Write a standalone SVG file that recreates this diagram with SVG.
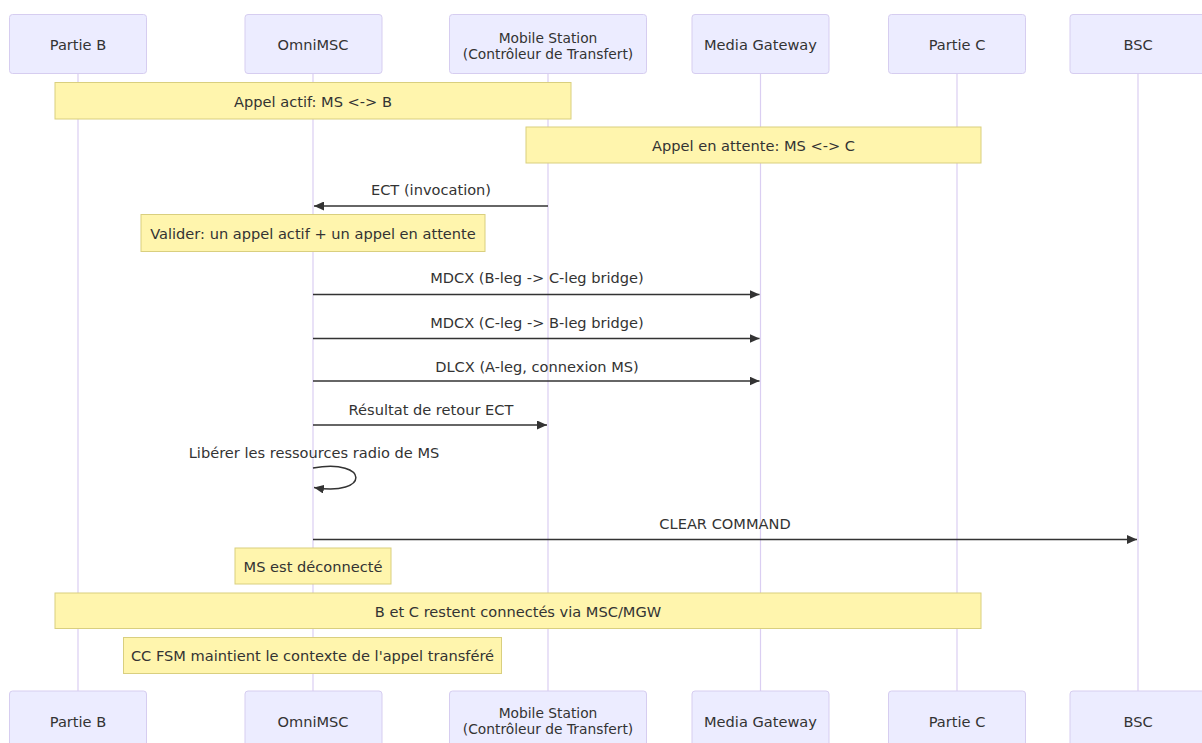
<svg xmlns="http://www.w3.org/2000/svg" width="1202" height="743" viewBox="0 0 1202 743">
<style>
.actor{fill:#ececff;stroke:#d6cdf0;stroke-width:1;}
.atext{font-family:"DejaVu Sans",Verdana,sans-serif;font-size:14.6px;fill:#333;text-anchor:middle;dominant-baseline:central;}
.atext2{font-family:"DejaVu Sans",Verdana,sans-serif;font-size:13.8px;fill:#333;text-anchor:middle;dominant-baseline:central;}
.life{stroke:#dacef2;stroke-width:1.2;fill:none;}
.note{fill:#fff5ad;stroke:#d9cf7f;stroke-width:1;}
.ntext{font-family:"DejaVu Sans",Verdana,sans-serif;font-size:14.6px;fill:#333;text-anchor:middle;dominant-baseline:central;}
.msg{stroke:#333;stroke-width:1.5;fill:none;}
.mtext{font-family:"DejaVu Sans",Verdana,sans-serif;font-size:14.6px;fill:#333;text-anchor:middle;dominant-baseline:central;}
</style>
<defs>
<marker id="arrow" markerUnits="userSpaceOnUse" markerWidth="11" markerHeight="9" refX="10" refY="4.5" orient="auto">
<path d="M0,0 L10,4.5 L0,9 z" fill="#333"/>
</marker>
</defs>
<rect width="1202" height="743" fill="#ffffff"/>
<g id="lifelines">
<line class="life" x1="78" y1="73" x2="78" y2="691"/>
<line class="life" x1="313" y1="73" x2="313" y2="691"/>
<line class="life" x1="548" y1="73" x2="548" y2="691"/>
<line class="life" x1="760.5" y1="73" x2="760.5" y2="691"/>
<line class="life" x1="957" y1="73" x2="957" y2="691"/>
<line class="life" x1="1138" y1="73" x2="1138" y2="691"/>
</g>
<g id="actor-partieB-top"><rect class="actor" x="9.5" y="14.5" width="137" height="59" rx="3"/><text class="atext" x="78" y="44">Partie B</text></g>
<g id="actor-omnimsc-top"><rect class="actor" x="245" y="14.5" width="137" height="59" rx="3"/><text class="atext" x="313" y="44">OmniMSC</text></g>
<g id="actor-ms-top"><rect class="actor" x="449.5" y="14.5" width="197" height="59" rx="3"/><text class="atext2" x="548" y="38">Mobile Station</text><text class="atext2" x="548" y="54">(Contrôleur de Transfert)</text></g>
<g id="actor-mgw-top"><rect class="actor" x="692" y="14.5" width="137" height="59" rx="3"/><text class="atext" x="760.5" y="44">Media Gateway</text></g>
<g id="actor-partieC-top"><rect class="actor" x="888.5" y="14.5" width="137" height="59" rx="3"/><text class="atext" x="957" y="44">Partie C</text></g>
<g id="actor-bsc-top"><rect class="actor" x="1070" y="14.5" width="137" height="59" rx="3"/><text class="atext" x="1138" y="44">BSC</text></g>

<g id="note-actif"><rect class="note" x="55" y="82.5" width="516" height="36.5"/><text class="ntext" x="313" y="101">Appel actif: MS &lt;-&gt; B</text></g>
<g id="note-attente"><rect class="note" x="526" y="127" width="455" height="36"/><text class="ntext" x="753.5" y="145">Appel en attente: MS &lt;-&gt; C</text></g>
<g id="note-valider"><rect class="note" x="141" y="214.5" width="344" height="37"/><text class="ntext" x="313" y="233">Valider: un appel actif + un appel en attente</text></g>
<g id="note-deconnecte"><rect class="note" x="235" y="548" width="156" height="36"/><text class="ntext" x="313" y="566">MS est déconnecté</text></g>
<g id="note-bc"><rect class="note" x="55" y="593" width="926" height="35.5"/><text class="ntext" x="518" y="611">B et C restent connectés via MSC/MGW</text></g>
<g id="note-ccfsm"><rect class="note" x="123.5" y="637.5" width="378" height="36"/><text class="ntext" x="312.5" y="655.5">CC FSM maintient le contexte de l'appel transféré</text></g>

<g id="connectors">
<text class="mtext" x="431" y="189">ECT (invocation)</text>
<line class="msg" x1="548" y1="206" x2="314" y2="206" marker-end="url(#arrow)"/>
<text class="mtext" x="537" y="277">MDCX (B-leg -&gt; C-leg bridge)</text>
<line class="msg" x1="313" y1="294.5" x2="759.5" y2="294.5" marker-end="url(#arrow)"/>
<text class="mtext" x="537" y="322">MDCX (C-leg -&gt; B-leg bridge)</text>
<line class="msg" x1="313" y1="338.5" x2="759.5" y2="338.5" marker-end="url(#arrow)"/>
<text class="mtext" x="537" y="366">DLCX (A-leg, connexion MS)</text>
<line class="msg" x1="313" y1="381" x2="759.5" y2="381" marker-end="url(#arrow)"/>
<text class="mtext" x="431" y="409.5">Résultat de retour ECT</text>
<line class="msg" x1="313" y1="425" x2="547" y2="425" marker-end="url(#arrow)"/>
<text class="mtext" x="314" y="452">Libérer les ressources radio de MS</text>
<path class="msg" d="M313,468 C370,458 370,497 314,487.5" marker-end="url(#arrow)"/>
<text class="mtext" x="725" y="523">CLEAR COMMAND</text>
<line class="msg" x1="313" y1="539.5" x2="1137" y2="539.5" marker-end="url(#arrow)"/>
</g>

<g id="actor-partieB-bottom"><rect class="actor" x="9.5" y="691" width="137" height="59" rx="3"/><text class="atext" x="78" y="721">Partie B</text></g>
<g id="actor-omnimsc-bottom"><rect class="actor" x="245" y="691" width="137" height="59" rx="3"/><text class="atext" x="313" y="721">OmniMSC</text></g>
<g id="actor-ms-bottom"><rect class="actor" x="449.5" y="691" width="197" height="59" rx="3"/><text class="atext2" x="548" y="713">Mobile Station</text><text class="atext2" x="548" y="729">(Contrôleur de Transfert)</text></g>
<g id="actor-mgw-bottom"><rect class="actor" x="692" y="691" width="137" height="59" rx="3"/><text class="atext" x="760.5" y="721">Media Gateway</text></g>
<g id="actor-partieC-bottom"><rect class="actor" x="888.5" y="691" width="137" height="59" rx="3"/><text class="atext" x="957" y="721">Partie C</text></g>
<g id="actor-bsc-bottom"><rect class="actor" x="1070" y="691" width="137" height="59" rx="3"/><text class="atext" x="1138" y="721">BSC</text></g>
</svg>
